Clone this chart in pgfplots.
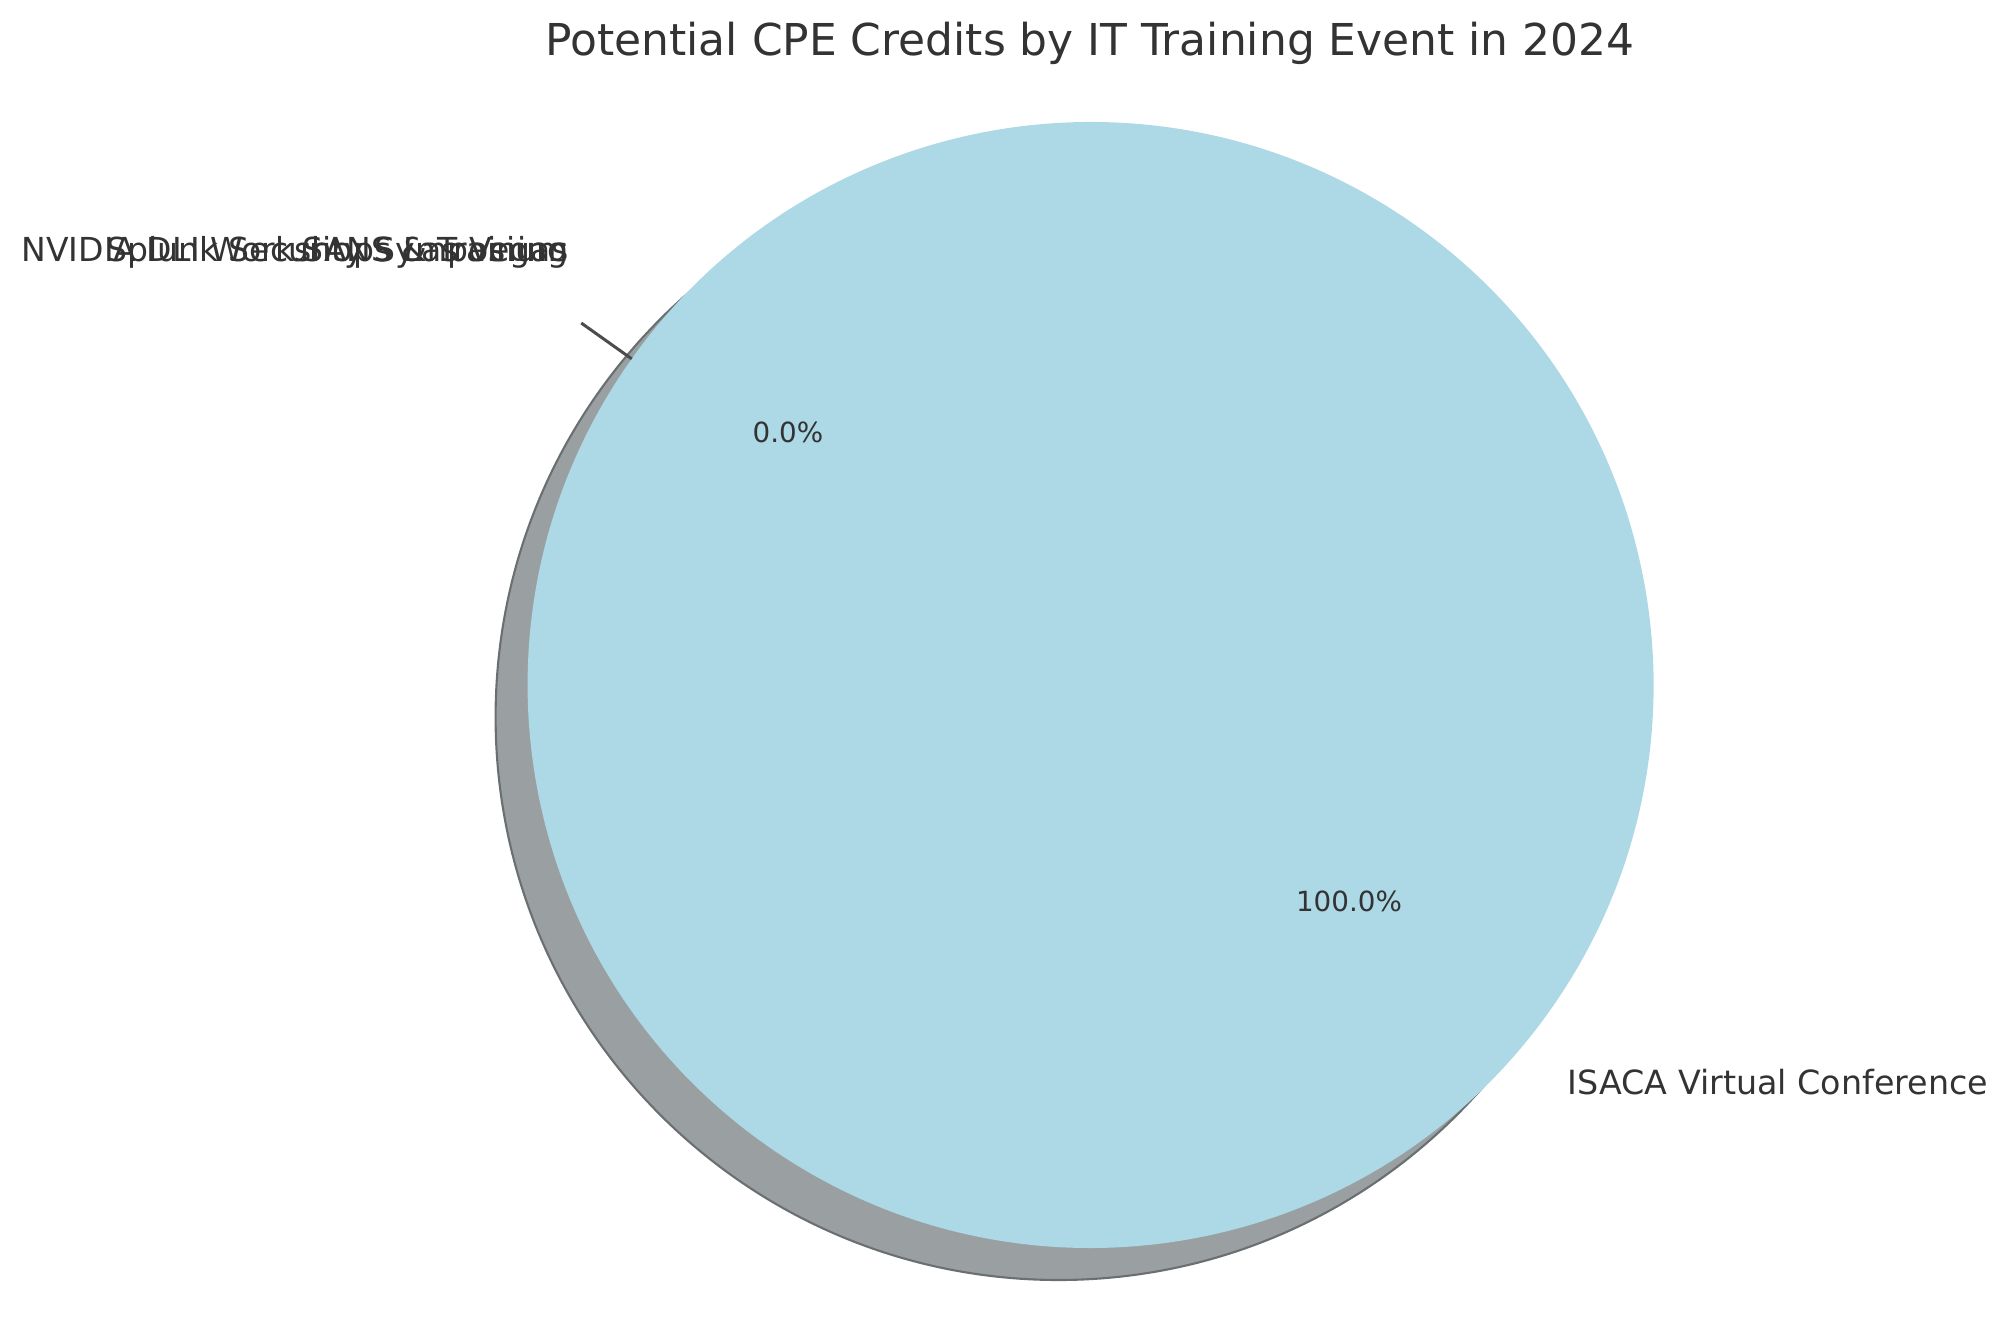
\documentclass[border=0pt]{standalone}
\usepackage{pgfplots}
\pgfplotsset{compat=1.18}
\usepackage{pgfplotstable}
\usepackage{fontspec}
\setmainfont{DejaVu Sans}

\definecolor{wedgeblue}{HTML}{ADD8E6}
\definecolor{shadowfill}{HTML}{9AA0A2}
\definecolor{shadowedge}{HTML}{6A7072}
\definecolor{txt}{HTML}{333333}

% credits per event (ISACA takes the whole pie, the rest are zero)
\pgfplotstableread{
idx credits
0 20
1 0
2 0
3 0
}\cpedata

% pie geometry (1 unit = 100 px of the figure)
\newcommand\cx{10.906}
\newcommand\cy{6.37}
\newcommand\rr{5.63}
\newcommand\startang{144.6}

\pgfmathsetmacro\total{0}
\pgfplotstableforeachcolumnelement{credits}\of\cpedata\as\v{%
  \pgfmathparse{\total+\v}\xdef\total{\pgfmathresult}}

\begin{document}
\begin{tikzpicture}
\begin{axis}[
  at={(0,0)}, anchor=south west,
  x=1cm, y=1cm,
  xmin=0, xmax=20.06, ymin=0, ymax=13.22,
  scale only axis, hide axis, clip=false,
]
% shadow
\fill[shadowfill, draw=shadowedge, line width=0.6pt]
  (axis cs:10.586,6.05) circle[radius=\rr cm];

% wedges from the table
\xdef\cum{\startang}
\pgfplotsforeachungrouped \i in {0,...,3}{%
  \pgfplotstablegetelem{\i}{credits}\of\cpedata
  \pgfmathsetmacro\sweep{360*\pgfplotsretval/\total}
  \pgfmathsetmacro\nextang{\cum+\sweep}
  \ifdim\sweep pt>0pt
    \edef\wedgecmd{\noexpand\fill[wedgeblue] (axis cs:\cx,\cy) -- ++(\cum:\rr cm)
      arc[start angle=\cum, end angle=\nextang, radius=\rr cm] -- cycle;}
    \wedgecmd
  \fi
  \xdef\cum{\nextang}
}

% leader line of the zero slices
\draw[color=black!70, line width=0.85pt]
  (axis cs:{\cx+\rr*cos(\startang)},{\cy+\rr*sin(\startang)}) --
  (axis cs:{\cx+1.11*\rr*cos(\startang)},{\cy+1.11*\rr*sin(\startang)});

% labels
\begin{scope}[every node/.style={inner sep=0pt, text=txt}]
\node[font=\fontsize{12.5}{15}\selectfont, anchor=base] at (axis cs:10.90,12.665)
  {Potential CPE Credits by IT Training Event in 2024};
\node[font=\fontsize{9.48}{11}\selectfont, anchor=base west] at (axis cs:15.67,2.27)
  {ISACA Virtual Conference};
\node[font=\fontsize{9.4}{11}\selectfont, anchor=base east] at (axis cs:5.69,10.60)
  {NVIDIA DLI Workshops \& Training};
\node[font=\fontsize{9.4}{11}\selectfont, anchor=base east] at (axis cs:5.69,10.60)
  {Splunk Security Symposium};
\node[font=\fontsize{9.4}{11}\selectfont, anchor=base east] at (axis cs:5.69,10.60)
  {SANS Las Vegas};
\node[font=\fontsize{7.9}{9}\selectfont] at (axis cs:7.88,8.90) {0.0\%};
\node[font=\fontsize{7.9}{9}\selectfont] at (axis cs:13.49,4.21) {100.0\%};
\end{scope}
\end{axis}
\pgfresetboundingbox
\path[use as bounding box] (0,0) rectangle (20.06,13.22);
\end{tikzpicture}
\end{document}
